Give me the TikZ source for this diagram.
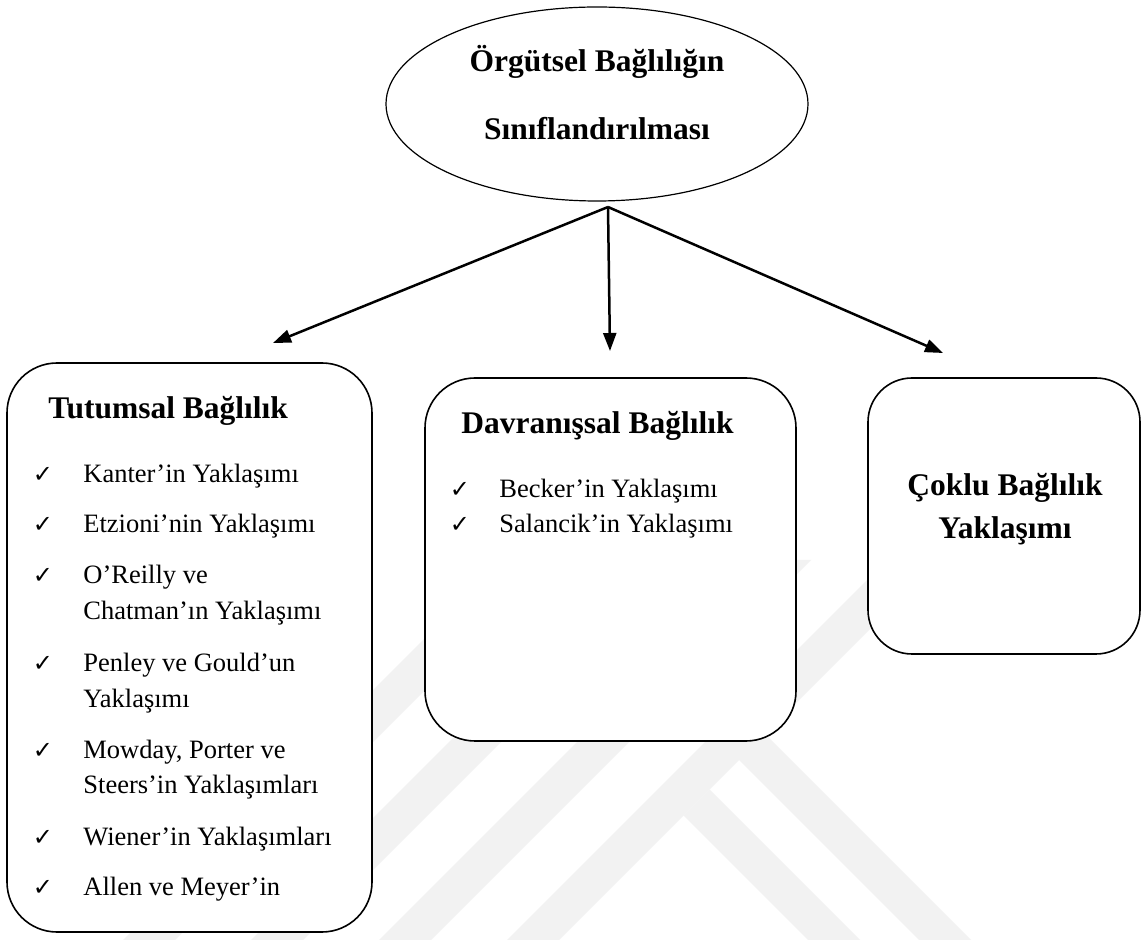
\documentclass[tikz,border=0pt]{standalone}
\usepackage{fontspec}
\setmainfont{Liberation Serif}[Ligatures=NoCommon]
\newfontfamily\symfnt{DejaVu Sans}
\usetikzlibrary{arrows.meta,shapes.geometric}
\begin{document}
\begin{tikzpicture}[x=0.5pt,y=-0.5pt,
  box/.style={draw=black,line width=0.8pt,fill=white,rounded corners=25pt,inner sep=0pt},
  head/.style={font=\fontsize{15.75}{18}\selectfont\bfseries,inner sep=0pt,anchor=base},
  item/.style={font=\fontsize{13.25}{16}\selectfont,inner sep=0pt,anchor=base west},
  chk/.style={font=\symfnt\fontsize{12}{14}\selectfont,inner sep=0pt,anchor=base},
  arr/.style={line width=1.25pt,-{Triangle[length=9pt,width=6.5pt]}},
  wm/.style={fill=black!5,draw=none}]
\useasboundingbox (0,0) rectangle (1141,940);
\fill[white] (0,0) rectangle (1141,940);
% faint watermark
\fill[wm] (123,940) -- (175,940) -- (555,560) -- (503,560) -- cycle;
\fill[wm] (251,940) -- (303,940) -- (683,560) -- (631,560) -- cycle;
\fill[wm] (379,940) -- (431,940) -- (811,560) -- (759,560) -- cycle;
\fill[wm] (507,940) -- (559,940) -- (939,560) -- (887,560) -- cycle;
\fill[wm] (808,940) -- (860,940) -- (709.5,789.5) -- (683.5,815.5) -- cycle;
\fill[wm] (919,940) -- (971,940) -- (731,700) -- (679,700) -- cycle;
% title ellipse
\node[draw,ellipse,line width=0.6pt,minimum width=211pt,minimum height=97pt,inner sep=0pt] (title) at (597,104) {};
\node[head] (t1) at (597,72) {Örgütsel Bağlılığın};
\node[head] (t2) at (597,140) {Sınıflandırılması};
% boxes
\node[box,minimum width=182.5pt,minimum height=284.5pt] (tut) at (189.5,647.5) {};
\node[box,minimum width=185.5pt,minimum height=181.5pt] (dav) at (610.5,559.5) {};
\node[box,rounded corners=22pt,minimum width=136pt,minimum height=138pt] (cok) at (1004,516) {};
% arrows
\coordinate (src) at (608,207);
\coordinate (tipL) at (273,343);
\coordinate (tipM) at (610,351);
\coordinate (tipR) at (943,353);
\draw[arr] (src) -- (tipL);
\draw[arr] (src) -- (tipM);
\draw[arr] (src) -- (tipR);
% left box
\node[head,anchor=base west] (hL) at (48,419) {Tutumsal Bağlılık};
\foreach \b/\t [count=\i] in {483/Kanter’in Yaklaşımı,533/Etzioni’nin Yaklaşımı,584/O’Reilly ve,620/Chatman’ın Yaklaşımı,672/Penley ve Gould’un,708/Yaklaşımı,758/{Mowday, Porter ve},793/Steers’in Yaklaşımları,845/Wiener’in Yaklaşımları,895/Allen ve Meyer’in}
  \node[item] (L\i) at (83,\b) {\t};
\foreach \b [count=\i] in {483,533,584,672,758,845,895}
  \node[chk] (cL\i) at (43,\b) {✓};
% middle box
\node[head,anchor=base west] (hM) at (461,434) {Davranışsal Bağlılık};
\node[item] (M1) at (499,498) {Becker’in Yaklaşımı};
\node[item] (M2) at (499,533) {Salancik’in Yaklaşımı};
\node[chk] (cM1) at (460,498) {✓};
\node[chk] (cM2) at (460,533) {✓};
% right box
\node[head] (hR1) at (1005,496) {Çoklu Bağlılık};
\node[head] (hR2) at (1005,539) {Yaklaşımı};
\end{tikzpicture}
\end{document}
